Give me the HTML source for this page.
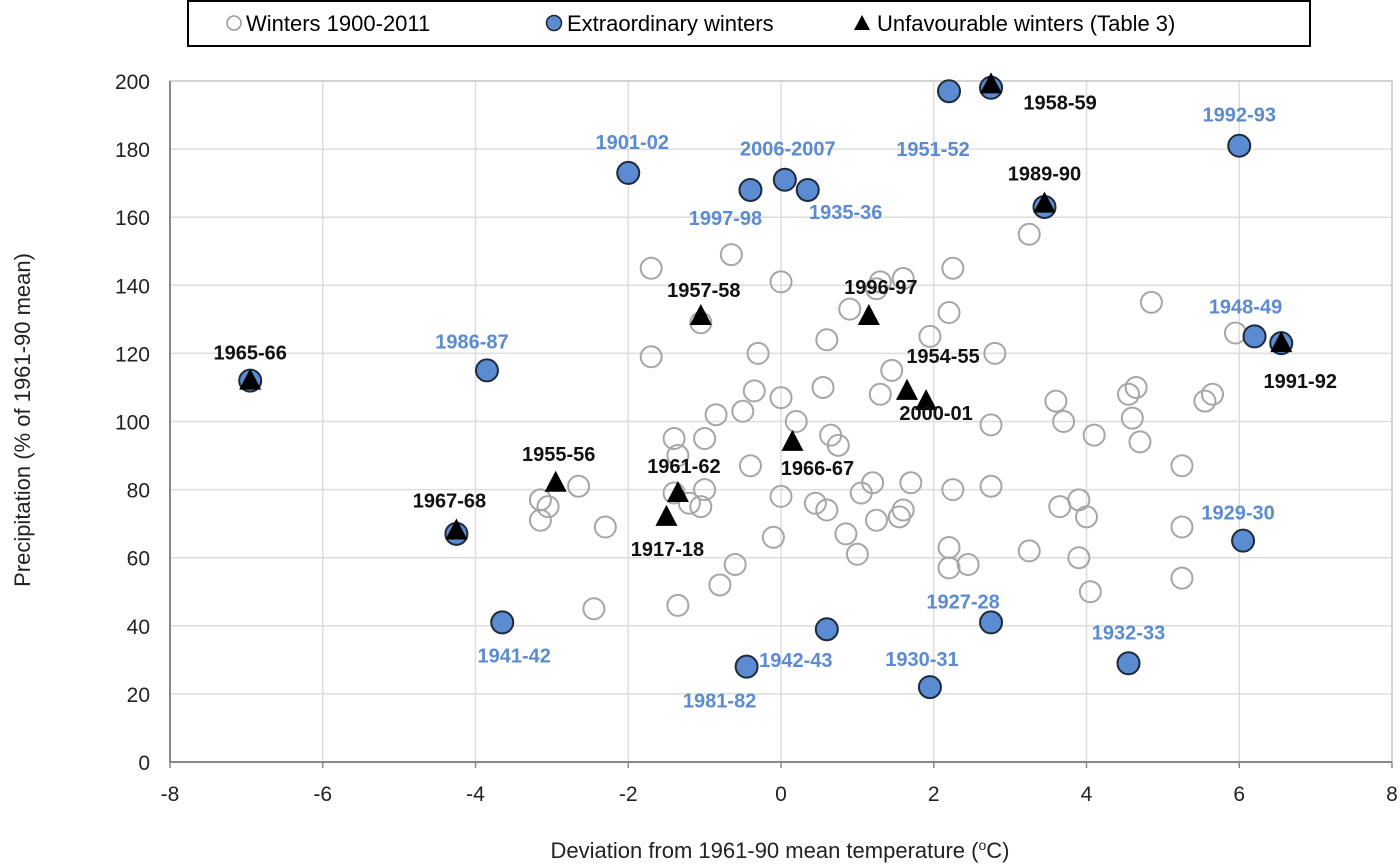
<!DOCTYPE html>
<html><head><meta charset="utf-8"><style>
body{margin:0;background:#fff;width:1400px;height:866px;overflow:hidden}
svg{display:block;font-family:"Liberation Sans",Arial,sans-serif}
</style></head><body>
<svg id="chart" width="1400" height="866" viewBox="0 0 1400 866">
<g id="grid"></g>
<g id="axes"></g>
<g id="marks"></g>
<g id="labels"></g>
<g>
<rect x="188" y="1" width="1122" height="45" fill="#fff" stroke="#000" stroke-width="2"/>
<g><circle cx="234" cy="23" r="7" fill="#fff" stroke="#999" stroke-width="1.5"/><text x="246" y="31" font-size="22" fill="#000">Winters 1900-2011</text></g>
<g><circle cx="554" cy="23" r="7.5" fill="#5b8bd0" stroke="#223" stroke-width="1.5"/><text x="567" y="31" font-size="22" fill="#000">Extraordinary winters</text></g>
<g><polygon points="862,15 870,30 854,30" fill="#000"/><text x="877" y="31" font-size="22" fill="#000">Unfavourable winters (Table 3)</text></g>
</g>
<text x="780" y="858" font-size="22" fill="#222" text-anchor="middle">Deviation from 1961-90 mean temperature (<tspan font-size="14" dy="-8">o</tspan><tspan dy="8">C)</tspan></text>
<text transform="translate(30,420) rotate(-90)" font-size="22" fill="#222" text-anchor="middle">Precipitation (% of 1961-90 mean)</text>
</svg>
<script>
const xTicks=[-8,-6,-4,-2,0,2,4,6,8];
const yTicks=[0,20,40,60,80,100,120,140,160,180,200];
const winterX=[-1.7,-0.65,0,1.3,1.6,2.25,0.9,2.2,1.25,4.85,-1.05,-1.7,-0.3,0.6,2.8,1.95,1.45,5.95,0.55,-0.35,0,-0.85,-0.5,0.2,1.3,3.6,3.7,4.1,4.55,4.65,4.6,4.7,5.55,5.65,2.75,-1.4,-1.0,-1.35,-0.4,0.0,0.65,0.75,-1.0,-1.05,-1.2,-1.4,-2.65,-3.15,-3.05,-3.15,-2.3,-0.6,-0.8,-1.35,-2.45,-0.1,0.45,0.6,0.85,1.05,1.2,1.25,1.55,1.7,1.0,2.25,2.2,2.2,2.45,2.75,3.25,3.65,3.9,3.9,4.0,4.05,5.25,5.25,5.25,1.6,3.25];
const winterY=[145,149,141,141,142,145,133,132,139,135,129,119,120,124,120,125,115,126,110,109,107,102,103,100,108,106,100,96,108,110,101,94,106,108,99,95,95,90,87,78,96,93,80,75,76,79,81,77,75,71,69,58,52,46,45,66,76,74,67,79,82,71,72,82,61,80,63,57,58,81,62,75,77,60,72,50,87,69,54,74,155];
const extraNames=["1951-52","1958-59","1992-93","1901-02","2006-2007","1997-98","1935-36","1989-90","1948-49","1991-92","1965-66","1986-87","1967-68","1929-30","1941-42","1927-28","1942-43","1932-33","1981-82","1930-31"];
const extraX=[2.2,2.75,6.0,-2.0,0.05,-0.4,0.35,3.45,6.2,6.55,-6.95,-3.85,-4.25,6.05,-3.65,2.75,0.6,4.55,-0.45,1.95];
const extraY=[197,198,181,173,171,168,168,163,125,123,112,115,67,65,41,41,39,29,28,22];
const unfavNames=["1958-59","1989-90","1991-92","1965-66","1967-68","1957-58","1996-97","1954-55","2000-01","1966-67","1955-56","1961-62","1917-18"];
const unfavX=[2.75,3.45,6.55,-6.95,-4.25,-1.05,1.15,1.65,1.9,0.15,-2.95,-1.35,-1.5];
const unfavY=[199,164,123,112,68,131,131,109,106,94,82,79,72];
// label offsets (px) relative to marker
const extraLabelDx=[-16,null,0,4,3,-25,38,null,-9,null,null,-15,null,-5,12,-28,-31,0,-27,-8];
const extraLabelDy=[58,0,-31,-31,-31,28,22,0,-30,0,0,-29,0,-28,33,-21,31,-31,34,-28];
const unfavLabelDx=[69,0,19,0,-7,3,12,36,10,25,3,6,1];
const unfavLabelDy=[18,-30,38,-28,-30,-26,-29,-35,12,26,-29,-27,32];

const X0=170,X1=1392,Y0=762,Y1=81;
const sx=v=>X0+(v+8)/16*(X1-X0);
const sy=v=>Y0-v/200*(Y0-Y1);
const NS="http://www.w3.org/2000/svg";
function mk(tag,attrs,parent){const e=document.createElementNS(NS,tag);for(const k in attrs)e.setAttribute(k,attrs[k]);parent.appendChild(e);return e;}
const grid=document.getElementById('grid'),axes=document.getElementById('axes'),marks=document.getElementById('marks'),labels=document.getElementById('labels');
xTicks.forEach(t=>{
 const l=mk('line',{x1:sx(t),x2:sx(t),y1:Y1,y2:Y0,stroke:'#ddd','stroke-width':1.5},grid);
 
 
 const tk=mk('line',{x1:sx(t),x2:sx(t),y1:Y0,y2:Y0+6,stroke:'#888','stroke-width':1.5},axes);
 
 
 const tx=mk('text',{x:sx(t),y:Y0+39,'font-size':21,fill:'#222','text-anchor':'middle'},axes);
 tx.textContent=t;
 
 
});
yTicks.forEach(t=>{
 const l=mk('line',{x1:X0,x2:X1,y1:sy(t),y2:sy(t),stroke:'#ddd','stroke-width':1.5},grid);
 
 
 const tx=mk('text',{x:X0-20,y:sy(t)+8,'font-size':21,fill:'#222','text-anchor':'end'},axes);
 tx.textContent=t;
 
 
});
const fr=mk('rect',{x:X0,y:Y1,width:X1-X0,height:Y0-Y1,fill:'none',stroke:'#ccc','stroke-width':1.5},axes);


const xa=mk('line',{x1:X0,x2:X1,y1:Y0,y2:Y0,stroke:'#888','stroke-width':2},axes);


const ya=mk('line',{x1:X0,x2:X0,y1:Y1,y2:Y0,stroke:'#888','stroke-width':2},axes);



winterX.forEach((x,i)=>{
 const c=mk('circle',{cx:sx(x),cy:sy(winterY[i]),r:10.5,fill:'none',stroke:'#a6a6a6','stroke-width':2},marks);
 
 
});
extraX.forEach((x,i)=>{
 const c=mk('circle',{cx:sx(x),cy:sy(extraY[i]),r:11,fill:'#5b8bd0',stroke:'#1e2a3a','stroke-width':2},marks);
 
 
 if(extraLabelDx[i]!==null){
  const t=mk('text',{x:sx(x)+extraLabelDx[i],y:sy(extraY[i])+extraLabelDy[i]+7,'font-size':20,'font-weight':'bold',fill:'#5b8bd0','text-anchor':'middle'},labels);
  t.textContent=extraNames[i];
  
  
 }
});
unfavX.forEach((x,i)=>{
 const cx=sx(x),cy=sy(unfavY[i]);
 const p=mk('polygon',{points:`${cx},${cy-12} ${cx+11},${cy+9} ${cx-11},${cy+9}`,fill:'#000'},marks);
 
 
 const t=mk('text',{x:cx+unfavLabelDx[i],y:cy+unfavLabelDy[i]+7,'font-size':20,'font-weight':'bold',fill:'#111','text-anchor':'middle'},labels);
 t.textContent=unfavNames[i];
 
 
});
</script>
</body></html>
